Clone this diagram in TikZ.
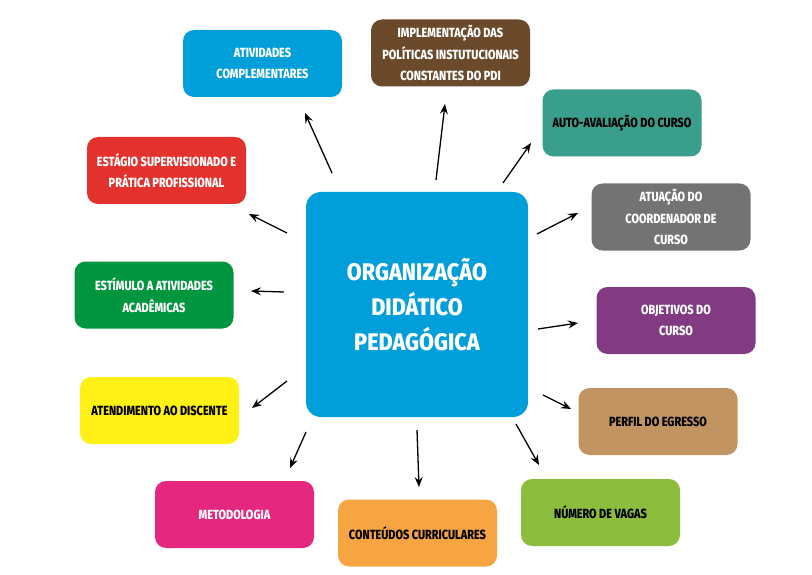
\documentclass[tikz,border=0pt]{standalone}
\usepackage{fontspec}
\setmainfont{Fira Sans}[FakeStretch=0.82, BoldFont={Fira Sans ExtraBold}]
\newfontfamily\centro{Fira Sans}[FakeStretch=0.9, BoldFont={Fira Sans ExtraBold}]
\usetikzlibrary{arrows.meta}
\definecolor{azul}{HTML}{009FDA}
\definecolor{marrom}{HTML}{6B4A2B}
\definecolor{verdeagua}{HTML}{3A9E8C}
\definecolor{cinza}{HTML}{737373}
\definecolor{roxo}{HTML}{823A82}
\definecolor{bege}{HTML}{C29462}
\definecolor{verdeclaro}{HTML}{8CBD3C}
\definecolor{laranja}{HTML}{F7A543}
\definecolor{rosa}{HTML}{E6277F}
\definecolor{amarelo}{HTML}{FFF016}
\definecolor{verde}{HTML}{009640}
\definecolor{vermelho}{HTML}{E3312D}
\begin{document}
\begin{tikzpicture}[x=1pt,y=-1pt,
	caixa/.style={rounded corners=11pt, minimum width=159pt, minimum height=67pt, inner sep=0pt,
		align=center, text=white, font=\bfseries\fontsize{13.3}{21.5}\selectfont},
	seta/.style={-{Stealth[length=10pt,width=8pt,inset=3.5pt]}, line width=1.3pt}]
			\useasboundingbox (0,0) rectangle (812,575);
			% caixa central
			\node[caixa, fill=azul, rounded corners=15pt, minimum width=222pt, minimum height=225pt,
				font=\centro\bfseries\fontsize{24}{35}\selectfont] (org) at (417,304.5) {ORGANIZAÇÃO\\DIDÁTICO\\PEDAGÓGICA};
			% caixas em volta
			\node[caixa, fill=azul] (atv) at (262.5,63.5) {ATIVIDADES\\COMPLEMENTARES};
			\node[caixa, fill=marrom] (impl) at (450.5,53) {IMPLEMENTAÇÃO DAS\\POLÍTICAS INSTUTUCIONAIS\\CONSTANTES DO PDI};
			\node[caixa, fill=verdeagua, text=black] (auto) at (622,123) {AUTO-AVALIAÇÃO DO CURSO};
			\node[caixa, fill=cinza] (atua) at (671,217) {ATUAÇÃO DO\\COORDENADOR DE\\CURSO};
			\node[caixa, fill=roxo] (obj) at (676,320.5) {OBJETIVOS DO\\CURSO};
			\node[caixa, fill=bege, text=black] (perf) at (658,421.5) {PERFIL DO EGRESSO};
			\node[caixa, fill=verdeclaro, text=black] (vag) at (600.5,512.5) {NÚMERO DE VAGAS};
			\node[caixa, fill=laranja, text=black] (cont) at (417.5,533) {CONTEÚDOS CURRICULARES};
			\node[caixa, fill=rosa] (met) at (234.5,514.5) {METODOLOGIA};
			\node[caixa, fill=amarelo, text=black] (atend) at (159.5,410.5) {ATENDIMENTO AO DISCENTE};
			\node[caixa, fill=verde] (estim) at (154,295) {ESTÍMULO A ATIVIDADES\\ACADÊMICAS};
			\node[caixa, fill=vermelho] (estag) at (166.5,170.5) {ESTÁGIO SUPERVISIONADO E\\PRÁTICA PROFISSIONAL};
			% pontas das setas
			\foreach \n/\xa/\ya/\xb/\yb in {atv/332/173/305/113, impl/436/180/445/104, auto/503/183/531/143,
				atua/537/234/578/213, obj/538/329/578/323, perf/543/395/571/409, vag/516/424/539/465,
				cont/417/430/419/487, met/306/432/290/468, atend/287/381/252/408, estim/284/292/251/291,
				estag/287/233/249/214}{
				\coordinate (\n-a) at (\xa,\ya);
				\coordinate (\n-b) at (\xb,\yb);
				\draw[seta] (\n-a) -- (\n-b);
			}
\end{tikzpicture}
\end{document}
